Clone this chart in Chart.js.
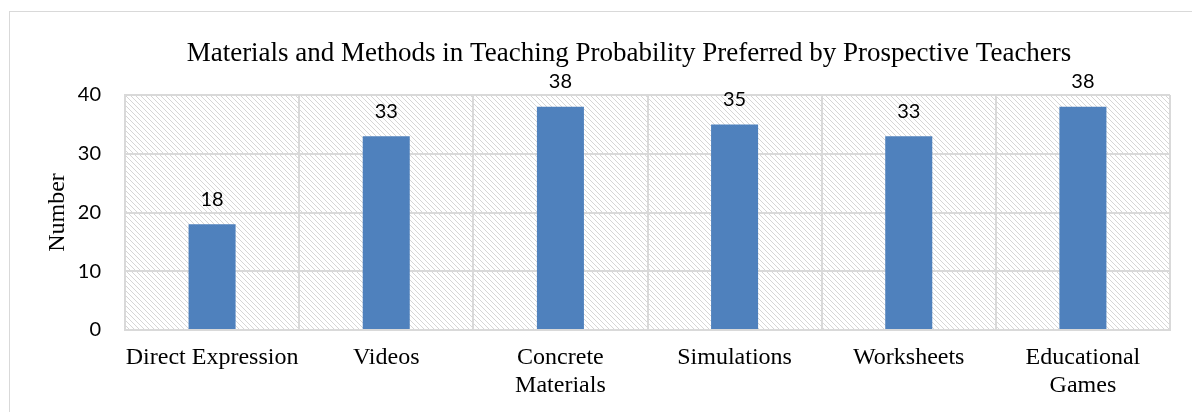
<!DOCTYPE html>
<html>
<head>
<meta charset="utf-8">
<script src="https://cdn.jsdelivr.net/npm/chart.js@4.4.0/dist/chart.umd.min.js"></script>
<style>
  html, body { margin: 0; padding: 0; background: #fff; }
  #wrap { width: 1192px; height: 412px; position: relative; }
</style>
</head>
<body>
<div id="wrap"><canvas id="chart"></canvas></div>
<script>
// chart data
const categories = ['Direct Expression', 'Videos', ['Concrete', 'Materials'], 'Simulations', 'Worksheets', ['Educational', 'Games']]
const counts = [18, 33, 38, 35, 33, 38]
const yTicks = [0, 10, 20, 30, 40]
const chartTitle = 'Materials and Methods in Teaching Probability Preferred by Prospective Teachers'
const yTitle = 'Number'

const GRID = '#d9d9d9'
const BAR = '#4f81bd'

// diagonal hatch for the plot background
function makeHatch() {
    const c = document.createElement('canvas')
    c.width = 5; c.height = 5
    const g = c.getContext('2d')
    g.fillStyle = '#ffffff'
    g.fillRect(0, 0, 5, 5)
    g.strokeStyle = '#d6d6d6'
    g.lineWidth = 1
    g.beginPath()
    g.moveTo(0, 0); g.lineTo(5, 5)
    g.moveTo(-2.5, 2.5); g.lineTo(2.5, 7.5)
    g.moveTo(2.5, -2.5); g.lineTo(7.5, 2.5)
    g.stroke()
    return c
}

const backdrop = {
    id: 'backdrop',
    beforeDraw(chart) {
        const {ctx, chartArea: a} = chart
        ctx.save()
        // outer frame
        ctx.strokeStyle = GRID
        ctx.lineWidth = 1
        ctx.strokeRect(9.5, 11.5, 1300, 500)
        // hatched plot area
        ctx.fillStyle = ctx.createPattern(makeHatch(), 'repeat')
        ctx.fillRect(a.left, a.top, a.right - a.left, a.bottom - a.top)
        // title
        ctx.fillStyle = '#000'
        ctx.font = '27px "Liberation Serif"'
        ctx.textAlign = 'center'
        ctx.textBaseline = 'alphabetic'
        ctx.fillText(chartTitle, 629, 61)
        ctx.restore()
    }
}

const valueLabels = {
    id: 'valueLabels',
    afterDatasetsDraw(chart) {
        const ctx = chart.ctx
        const meta = chart.getDatasetMeta(0)
        ctx.save()
        ctx.fillStyle = '#000'
        ctx.font = '20px Lato'
        ctx.textAlign = 'center'
        ctx.textBaseline = 'middle'
        meta.data.forEach(function(bar, i) {
            ctx.fillText(String(counts[i]), bar.x, bar.y - 25)
        })
        ctx.restore()
    }
}

new Chart(document.getElementById('chart'), {
    type: 'bar',
    data: {
        labels: categories,
        datasets: [{
            label: yTitle,
            data: counts,
            backgroundColor: BAR,
            borderWidth: 0,
            categoryPercentage: 1,
            barPercentage: 0.27
        }]
    },
    options: {
        responsive: true,
        maintainAspectRatio: false,
        animation: false,
        layout: { padding: { top: 95, right: 22, bottom: 0, left: 0 } },
        plugins: {
            legend: { display: false },
            title: { display: false },
            tooltip: { enabled: false }
        },
        scales: {
            x: {
                offset: true,
                grid: { color: GRID, lineWidth: 2, offset: true, drawTicks: false },
                border: { color: GRID, width: 2 },
                ticks: {
                    color: '#000',
                    padding: 14,
                    maxRotation: 0,
                    autoSkip: false,
                    font: { family: 'Liberation Serif', size: 24, lineHeight: 1.17 }
                },
                afterFit(scale) { scale.height = 82 }
            },
            y: {
                min: 0,
                max: 40,
                afterBuildTicks(scale) { scale.ticks = yTicks.map(v => ({ value: v })) },
                grid: { color: GRID, lineWidth: 2, drawTicks: false },
                border: { color: GRID, width: 2 },
                ticks: {
                    color: '#000',
                    padding: 24,
                    font: { family: 'Lato', size: 20 }
                },
                title: {
                    display: true,
                    text: yTitle,
                    color: '#000',
                    padding: { top: 43, bottom: 0 },
                    font: { family: 'Liberation Serif', size: 24 }
                },
                afterFit(scale) { scale.width = 125 }
            }
        }
    },
    plugins: [backdrop, valueLabels]
})
</script>
</body>
</html>
